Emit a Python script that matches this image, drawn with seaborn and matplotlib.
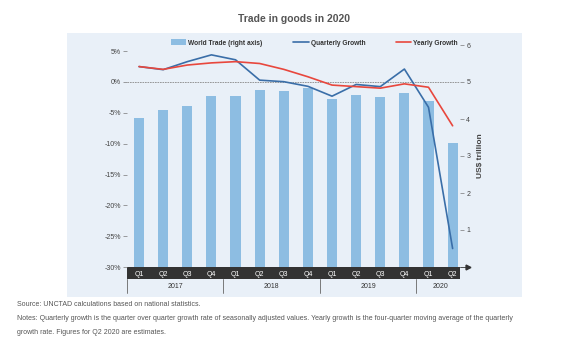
import numpy as np
import pandas as pd
import matplotlib
matplotlib.use("Agg")
import matplotlib.pyplot as plt
import seaborn as sns
from matplotlib.patches import Rectangle, Patch
from matplotlib.lines import Line2D
from matplotlib.transforms import blended_transform_factory
from matplotlib import font_manager

# ---------------- data ----------------
years = ["2017", "2018", "2019", "2020"]
quarters_per_year = [4, 4, 4, 2]
quarter_labels = ["Q1", "Q2", "Q3", "Q4", "Q1", "Q2", "Q3", "Q4",
                  "Q1", "Q2", "Q3", "Q4", "Q1", "Q2"]
world_trade = [4.03, 4.24, 4.36, 4.63, 4.61, 4.79, 4.76, 4.85,
               4.53, 4.64, 4.60, 4.69, 4.49, 3.36]          # US$ trillion
quarterly_growth = [2.5, 2.0, 3.3, 4.4, 3.6, 0.3, 0.05, -0.7,
                    -2.3, -0.4, -0.75, 2.1, -4.1, -27.0]     # %
yearly_growth = [2.5, 2.05, 2.75, 3.1, 3.3, 3.0, 2.05, 0.85,
                 -0.5, -0.75, -1.0, -0.3, -0.85, -7.1]       # %
left_ticks = [5, 0, -5, -10, -15, -20, -25, -30]
right_ticks = [1, 2, 3, 4, 5, 6]

# ---------------- fonts ----------------
sns.set_theme(style="white")
avail = {f.name for f in font_manager.fontManager.ttflist}
narrow = "Liberation Sans Narrow" if "Liberation Sans Narrow" in avail else "Liberation Sans"
plt.rcParams["font.family"] = [narrow, "DejaVu Sans"]

W, H = 584, 341
fig = plt.figure(figsize=(W / 100, H / 100), dpi=100)
fig.patch.set_facecolor("white")

# panel background
fig.patches.append(Rectangle((67 / W, 1 - 297 / H), (522 - 67) / W, (297 - 33) / H,
                             transform=fig.transFigure, facecolor="#e9f0f8",
                             edgecolor="none", zorder=-5))

ax_l, ax_r, ax_b, ax_t = 127, 460, 267, 45
ax = fig.add_axes([ax_l / W, 1 - ax_b / H, (ax_r - ax_l) / W, (ax_b - ax_t) / H])
ax2 = ax.twinx()
ax.set_zorder(2)
ax2.set_zorder(1)
ax.patch.set_visible(False)
ax2.patch.set_visible(False)

cats = [f"{y} {q}" for y, n in zip(years, quarters_per_year) for q in ["Q1", "Q2", "Q3", "Q4"][:n]]
df = pd.DataFrame({"cat": cats, "trade": world_trade, "x": np.arange(len(cats)),
                   "qg": quarterly_growth, "yg": yearly_growth})

bar_color = "#8dbde2"
blue = "#3a6ea8"
red = "#e8473d"

sns.barplot(data=df, x="cat", y="trade", ax=ax2, color=bar_color, saturation=1,
            width=0.42, order=cats, edgecolor="none", linewidth=0)
sns.lineplot(data=df, x="x", y="qg", ax=ax, color=blue, linewidth=1.2)
sns.lineplot(data=df, x="x", y="yg", ax=ax, color=red, linewidth=1.2)

ax.axhline(0, color="#8a8a8a", lw=0.6, ls=(0, (2, 1)), zorder=1)

n = len(cats)
ax.set_xlim(-0.5, (ax_r - 138) / 24.2)
ax.set_ylim(-30, 6)
ax2.set_ylim(0, 6)

for a in (ax, ax2):
    for s in a.spines.values():
        s.set_visible(False)
    a.grid(False)
    a.set_xlabel("")
    a.set_ylabel("")

tick_col = "#444444"
ax.set_yticks(left_ticks)
ax.set_yticklabels([f"{t}%" for t in left_ticks])
ax.tick_params(axis="y", left=True, length=3, width=0.5, color="#777777",
               labelsize=5, labelcolor=tick_col, pad=1.5)
ax2.set_yticks(right_ticks)
ax2.set_yticklabels([str(t) for t in right_ticks])
ax2.tick_params(axis="y", right=True, length=3, width=0.5, color="#777777",
                labelsize=5, labelcolor=tick_col, pad=1.5)
ax2.set_ylabel("US$ trillion", fontsize=6, fontweight="bold", color="#444444", labelpad=5)

# x axis: dark band with quarter labels
band_h = 12 / (ax_b - ax_t)
ax.add_patch(Rectangle((0, -band_h), 1, band_h, transform=ax.transAxes,
                       facecolor="#333333", edgecolor="none", clip_on=False, zorder=0.5))
ax.set_xticks(np.arange(n))
ax.set_xticklabels(quarter_labels)
ax.tick_params(axis="x", bottom=False, length=0, labelsize=5, labelcolor="white", pad=3.2)
ax.plot([1.0, 1.025], [0, 0], transform=ax.transAxes, color="#333333", lw=0.6, clip_on=False)
ax.plot([1.025], [0], marker=">", markersize=3.5, color="#333333",
        transform=ax.transAxes, clip_on=False)

# year groups
bt = blended_transform_factory(ax.transData, ax.transAxes)
edges = np.concatenate([[0], np.cumsum(quarters_per_year)]) - 0.5
for i, y in enumerate(years):
    ax.plot([edges[i], edges[i]], [-band_h, -band_h - 14 / (ax_b - ax_t)],
            transform=bt, color="#666666", lw=0.6, clip_on=False)
    ax.text((edges[i] + edges[i + 1]) / 2, -band_h - 8 / (ax_b - ax_t), y,
            transform=bt, ha="center", va="center", fontsize=5, color="#333333")

# legend
handles = [Patch(facecolor=bar_color, edgecolor="none"),
           Line2D([], [], color=blue, lw=1.2),
           Line2D([], [], color=red, lw=1.2)]
labels = ["World Trade (right axis)", "Quarterly Growth", "Yearly Growth"]
leg = fig.legend(handles, labels, loc="center left", bbox_to_anchor=(171 / W, 1 - 43 / H),
                 ncol=3, frameon=False, fontsize=4.8, handlelength=2.3, handleheight=0.9,
                 handletextpad=0.3, columnspacing=4.6, borderpad=0, borderaxespad=0)
for t in leg.get_texts():
    t.set_color("#333333")
    t.set_fontweight("bold")

# title
fig.text(294 / W, 1 - 19 / H, "Trade in goods in 2020", ha="center", va="center",
         fontsize=7.5, fontweight="bold", color="#555555", family=["Liberation Sans", "DejaVu Sans"])

# footnotes
notes = ["Source: UNCTAD calculations based on national statistics.",
         "Notes: Quarterly growth is the quarter over quarter growth rate of seasonally adjusted values. "
         "Yearly growth is the four-quarter moving average of the quarterly",
         "growth rate. Figures for Q2 2020 are estimates."]
for txt, yy in zip(notes, [305, 319, 332]):
    fig.text(17 / W, 1 - yy / H, txt, ha="left", va="center", fontsize=5.05,
             color="#555555", family=["Liberation Sans", "DejaVu Sans"])

fig.savefig("out.png", dpi=100)
